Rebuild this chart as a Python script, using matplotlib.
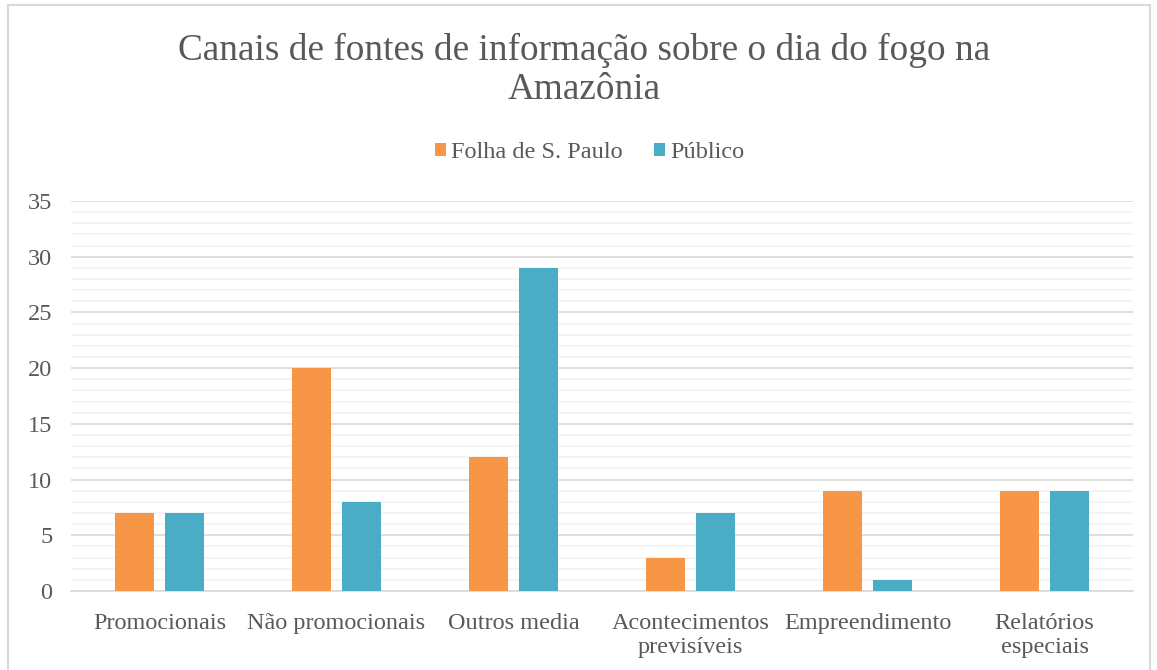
import matplotlib.pyplot as plt
import numpy as np
from matplotlib.patches import Rectangle
from matplotlib.ticker import MultipleLocator

categorias = ["Promocionais", "Não promocionais", "Outros media",
              "Acontecimentos\nprevisíveis", "Empreendimento", "Relatórios\nespeciais"]
folha = [7, 20, 12, 3, 9, 9]
publico = [7, 8, 29, 7, 1, 9]

plt.rcParams['font.family'] = ['Liberation Serif', 'DejaVu Serif']
cinza = "#595959"

fig = plt.figure(figsize=(11.57, 6.7), dpi=100)
ax = fig.add_axes([71 / 1157, 1 - 591 / 670, (1133 - 71) / 1157, (591 - 201) / 670])

x = np.arange(len(categorias))
largura = 0.22
ax.bar(x - 0.141, folha, largura, color="#F79646", label="Folha de S. Paulo", zorder=3)
ax.bar(x + 0.141, publico, largura, color="#4BACC6", label="Público", zorder=3)

ax.set_xlim(-0.5, len(categorias) - 0.5)
ax.set_ylim(0, 35)
ax.yaxis.set_major_locator(MultipleLocator(5))
ax.yaxis.set_minor_locator(MultipleLocator(1))
ax.grid(axis="y", which="major", color="#d9d9d9", linewidth=1.2, zorder=0)
ax.grid(axis="y", which="minor", color="#f2f2f2", linewidth=1.2, zorder=0)
ax.set_axisbelow(True)

for s in ["top", "right", "left"]:
    ax.spines[s].set_visible(False)
ax.spines["bottom"].set_color("#d9d9d9")
ax.spines["bottom"].set_linewidth(1.2)

ax.set_xticks(x)
ax.set_xticklabels(categorias, fontsize=17.5, color=cinza, linespacing=1.19)
ax.tick_params(axis="y", which="both", length=0, labelsize=17.5, labelcolor=cinza, pad=13.5)
ax.tick_params(axis="x", length=0, pad=15.5)

fig.text(0.5 + 6 / 1157, 1 - 70 / 670, "Canais de fontes de informação sobre o dia do fogo na\nAmazônia",
         ha="center", va="center", fontsize=26.8, color=cinza, linespacing=1.19)

fig.legend(loc="center", bbox_to_anchor=(0.5 + 11 / 1157, 1 - 153 / 670), ncol=2, frameon=False,
           fontsize=17.5, labelcolor=cinza, handlelength=0.45, handleheight=0.45,
           handletextpad=0.2, columnspacing=1.3)

fig.patches.append(Rectangle((8 / 1157, -0.05), (1150 - 8) / 1157, 1.05 - 5 / 670,
                             transform=fig.transFigure, fill=False,
                             edgecolor="#d9d9d9", linewidth=1.5))

fig.savefig("out.png", dpi=100)
